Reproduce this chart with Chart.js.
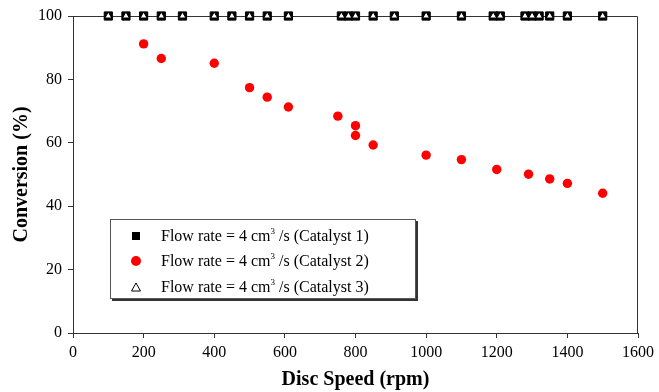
<!DOCTYPE html>
<html>
<head>
<meta charset="utf-8">
<script src="https://cdn.jsdelivr.net/npm/chart.js@4/dist/chart.umd.min.js"></script>
<style>
  html, body { margin: 0; padding: 0; background: #fff; }
  #wrap { position: relative; width: 659px; height: 392px; }
  #legend {
    position: absolute; left: 110px; top: 219px; width: 304px; height: 78px;
    border: 1px solid #555; box-shadow: 2px 2px 0 #333; background: #fff;
    font-family: "Liberation Serif", "Times New Roman", serif; font-size: 16px; color: #000;
  }
  #legend .row { position: absolute; left: 0; height: 20px; line-height: 20px; white-space: nowrap; }
  #legend .mk { position: absolute; left: 20px; top: 5px; width: 10px; height: 10px; }
  #legend .txt { position: absolute; left: 50px; top: 0; }
  #legend sup { font-size: 9px; vertical-align: 7px; line-height: 0; }
</style>
</head>
<body>
<div id="wrap">
  <canvas id="chart" width="659" height="392"></canvas>
  <div id="legend"></div>
</div>
<script>
// disc speed (rpm) and conversion (%) for the three catalysts
var speedCat1 = [100, 150, 200, 250, 310, 400, 450, 500, 550, 610, 760, 780, 800, 850, 910, 1000, 1100, 1190, 1210, 1280, 1300, 1320, 1350, 1400, 1500];
var convCat1 = [100, 100, 100, 100, 100, 100, 100, 100, 100, 100, 100, 100, 100, 100, 100, 100, 100, 100, 100, 100, 100, 100, 100, 100, 100];
var speedCat2 = [200, 250, 400, 500, 550, 610, 750, 800, 800, 850, 1000, 1100, 1200, 1290, 1350, 1400, 1500];
var convCat2 = [91.2, 86.6, 85.1, 77.4, 74.4, 71.3, 68.4, 65.4, 62.3, 59.3, 56.1, 54.7, 51.6, 50.1, 48.6, 47.2, 44.1];
var speedCat3 = [100, 150, 200, 250, 310, 400, 450, 500, 550, 610, 760, 780, 800, 850, 910, 1000, 1100, 1190, 1210, 1280, 1300, 1320, 1350, 1400, 1500];
var convCat3 = [100, 100, 100, 100, 100, 100, 100, 100, 100, 100, 100, 100, 100, 100, 100, 100, 100, 100, 100, 100, 100, 100, 100, 100, 100];
var seriesLabels = ['Catalyst 1', 'Catalyst 2', 'Catalyst 3'];
var xTicks = [0, 200, 400, 600, 800, 1000, 1200, 1400, 1600];
var yTicks = [0, 20, 40, 60, 80, 100];

function toPoints(xs, ys) {
    var pts = [];
    for (var i = 0; i < xs.length; i++) {
        pts.push({ x: xs[i], y: ys[i] });
    }
    return pts;
}

var serif = '"Liberation Serif", "Times New Roman", serif';

// box around the plot area
var frame = {
    id: 'frame',
    beforeDatasetsDraw: function(chart) {
        var a = chart.chartArea;
        var ctx = chart.ctx;
        ctx.save();
        ctx.strokeStyle = '#333';
        ctx.lineWidth = 1;
        ctx.beginPath();
        ctx.moveTo(a.left, a.top + 0.5);
        ctx.lineTo(a.right - 0.5, a.top + 0.5);
        ctx.lineTo(a.right - 0.5, a.bottom);
        ctx.stroke();
        ctx.restore();
    }
};

var data = {
    datasets: [
        {
            label: seriesLabels[0],
            data: toPoints(speedCat1, convCat1),
            pointStyle: 'rect',
            pointRadius: 5.8,
            backgroundColor: '#000',
            borderColor: '#000',
            borderWidth: 1,
            clip: false,
            order: 3
        },
        {
            label: seriesLabels[1],
            data: toPoints(speedCat2, convCat2),
            pointStyle: 'circle',
            pointRadius: 4.7,
            backgroundColor: '#ff0000',
            borderColor: '#ff0000',
            borderWidth: 0,
            clip: false,
            order: 2
        },
        {
            label: seriesLabels[2],
            data: toPoints(speedCat3, convCat3),
            pointStyle: 'triangle',
            pointRadius: 4,
            backgroundColor: '#fff',
            borderColor: '#000',
            borderWidth: 1,
            clip: false,
            order: 1
        }
    ]
};

var options = {
    responsive: false,
    animation: false,
    layout: { padding: { top: 16, right: 21, left: 0, bottom: 0 } },
    plugins: { legend: { display: false }, tooltip: { enabled: false } },
    scales: {
        x: {
            type: 'linear',
            min: 0, max: 1600,
            afterBuildTicks: function(scale) {
                scale.ticks = xTicks.map(function(v) { return { value: v }; });
            },
            afterFit: function(scale) { scale.height = 59; },
            grid: { drawOnChartArea: false, drawTicks: true, tickLength: 5, tickColor: '#333' },
            border: { display: true, color: '#333', width: 1 },
            ticks: {
                color: '#000', font: { family: serif, size: 16 }, padding: 5, maxRotation: 0,
                callback: function(v) { return String(v); }
            },
            title: {
                display: true, text: 'Disc Speed (rpm)', color: '#000',
                font: { family: serif, size: 20, weight: 'bold' }, padding: { top: 4, bottom: 0 }
            }
        },
        y: {
            type: 'linear',
            min: 0, max: 100,
            afterBuildTicks: function(scale) {
                scale.ticks = yTicks.map(function(v) { return { value: v }; });
            },
            afterFit: function(scale) { scale.width = 73; },
            grid: { drawOnChartArea: false, drawTicks: true, tickLength: 5, tickColor: '#333' },
            border: { display: true, color: '#333', width: 1 },
            ticks: { color: '#000', font: { family: serif, size: 16 }, padding: 6 },
            title: {
                display: true, text: 'Conversion (%)', color: '#000',
                font: { family: serif, size: 20, weight: 'bold' }, padding: { top: 10, bottom: 0 }
            }
        }
    }
};

var chart = new Chart(document.getElementById('chart').getContext('2d'), {
    type: 'scatter',
    data: data,
    options: options,
    plugins: [frame]
});

// legend with superscript units
var markers = [
    '<span class="mk"><span style="position:absolute;left:1px;top:1px;width:8px;height:8px;background:#000"></span></span>',
    '<span class="mk"><span style="position:absolute;left:0;top:0;width:10px;height:10px;border-radius:50%;background:#ff0000"></span></span>',
    '<span class="mk"><svg width="10" height="10" style="position:absolute;left:0;top:0"><polygon points="5,1 9.5,9 0.5,9" fill="#fff" stroke="#000" stroke-width="1"/></svg></span>'
];
var tops = [6, 31, 57];
var legendHtml = '';
for (var i = 0; i < seriesLabels.length; i++) {
    legendHtml += '<div class="row" style="top:' + tops[i] + 'px">' + markers[i] +
        '<span class="txt">Flow rate = 4 cm<sup>3</sup> /s (' + seriesLabels[i] + ')</span></div>';
}
document.getElementById('legend').innerHTML = legendHtml;
</script>
</body>
</html>
